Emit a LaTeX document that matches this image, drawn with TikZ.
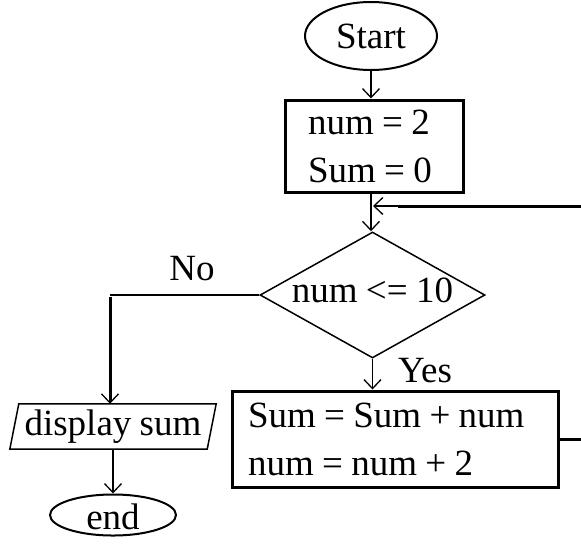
\documentclass[tikz,border=0pt]{standalone}
\usepackage{fontspec}
\setmainfont{Liberation Serif}[WordSpace=0.9]
\usetikzlibrary{arrows.meta,shapes.geometric}
\begin{document}
\begin{tikzpicture}[x=1pt,y=-1pt,
  every node/.style={font=\fontsize{37}{48}\selectfont, inner sep=0pt},
  tip/.style={-{Straight Barb[length=9pt,width=17pt,line width=1.3pt]}},
  flow/.style={line width=1.3pt, tip},
  heavy/.style={line width=3pt},
  terminal/.style={ellipse, draw, line width=2pt},
  procbox/.style={rectangle, draw, line width=3pt, align=flush left},
  decision/.style={diamond, draw, line width=1.5pt, shape aspect=1.79},
  iobox/.style={rectangle}
]
\clip (0,0) rectangle (581,547);

% terminals, boxes and the test
\node[terminal, minimum width=132pt, minimum height=68pt] (st) at (371,36) {Start};
\node[procbox, minimum width=178pt, minimum height=92pt, text width=132pt] (init) at (374,146) {num = 2\\Sum = 0};
\node[decision, minimum width=225pt, minimum height=126pt, text depth=9pt] (test) at (372.5,295) {num <= 10};
\node[procbox, minimum width=326pt, minimum height=96pt, text width=294pt] (update) at (395,439) {Sum = Sum + num\\num = num + 2};
\node[iobox, minimum width=206pt, minimum height=45pt] (show) at (113,426.5) {display sum};
\draw[line width=1.5pt] ([xshift=9pt]show.north west) -- (show.north east)
  -- ([xshift=-9pt]show.south east) -- (show.south west) -- cycle;
\node[terminal, minimum width=126pt, minimum height=40pt, text height=29pt, text depth=0pt] (stop) at (113,515) {end};

% branch labels
\node[anchor=base] (nolbl) at (192,280) {No};
\node[anchor=base west] (yeslbl) at (398,382) {Yes};

% connectors
\draw[flow] (st) -- (st |- init.north);
\draw[flow] (st |- init.south) -- (st |- test.north);
\coordinate (back) at (398,206);
\coordinate (merge) at (373,206);
\draw[heavy] (update.east) -- ++(40,0) |- (back);
\draw[flow] (back) -- (merge);
\coordinate (nobend) at ([xshift=-3pt]show.north |- test.west);
\draw[line width=1.5pt] (test.west) -- (nobend);
\draw[heavy, tip] ([yshift=-1.5pt]nobend) -- (nobend |- show.north);
\draw[flow] (show.south) -- (stop.north);
\draw[flow] (test.south) -- (test.south |- update.north);
\end{tikzpicture}
\end{document}
